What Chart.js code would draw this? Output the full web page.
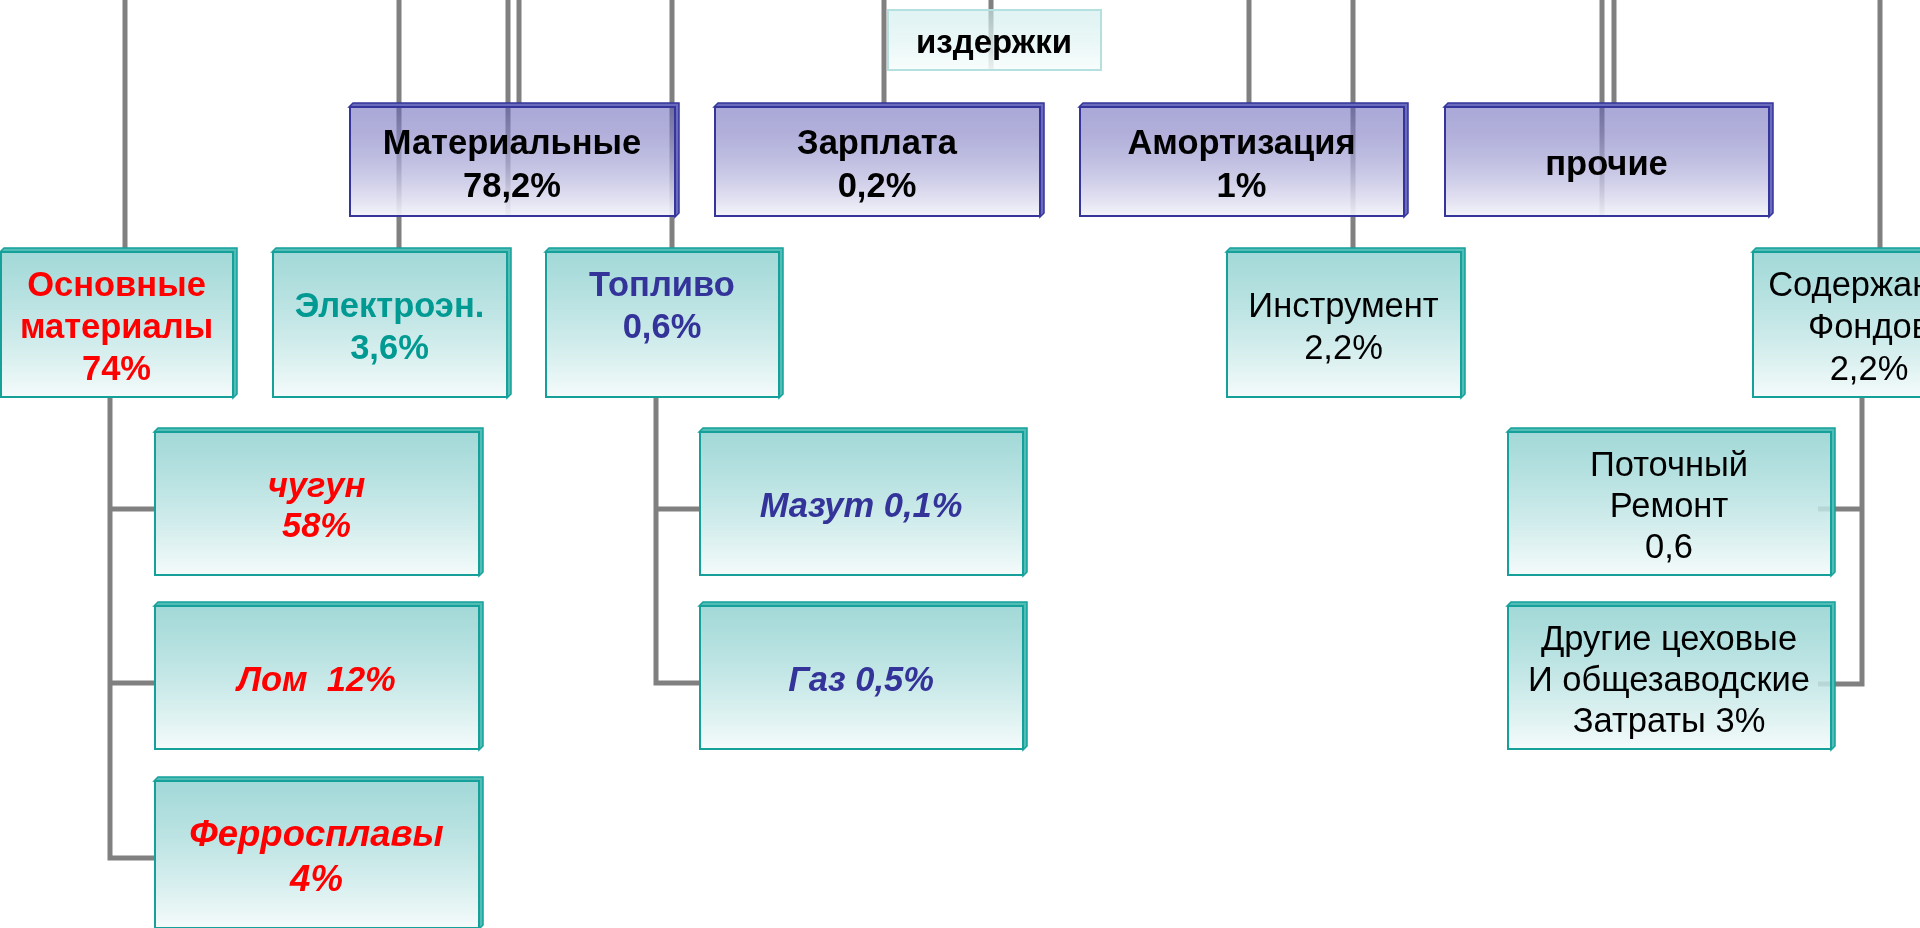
<!DOCTYPE html>
<html><head><meta charset="utf-8">
<script src="https://cdn.jsdelivr.net/npm/chart.js@4.4.1/dist/chart.umd.min.js"></script>
<style>html,body{margin:0;padding:0;background:#fff;overflow:hidden}#wrap{width:1920px;height:928px;position:relative}</style>
</head><body><div id="wrap"><canvas id="c"></canvas></div>
<script>
// ---------------- data ----------------
const rootName = 'издержки';
const groupNames = ['Материальные', 'Зарплата', 'Амортизация', 'прочие'];
const groupShares = ['78,2%', '0,2%', '1%', ''];
const itemNames = ['Основные\nматериалы', 'Электроэн.', 'Топливо', 'Инструмент', 'Содержание\nФондов'];
const itemShares = ['74%', '3,6%', '0,6%', '2,2%', '2,2%'];
const detailNames = ['чугун', 'Лом', 'Ферросплавы', 'Мазут', 'Газ', 'Поточный\nРемонт', 'Другие цеховые\nИ общезаводские\nЗатраты'];
const detailShares = ['58%', '12%', '4%', '0,1%', '0,5%', '0,6', '3%'];

// ---------------- layout (axis units = 1920 x 928 frame) ----------------
const rootBox = {x0: 887, x1: 1101, y0: 10, y1: 71};
const groupBoxX = [[349, 679], [714, 1044], [1079, 1408], [1444, 1773]];
const groupBoxY = [103, 217];
const itemBoxX = [[0, 237], [272, 511], [545, 783], [1226, 1465], [1752, 1990]];
const itemBoxY = [248, 398];
const itemTrailingBlank = [false, false, true, false, false];
const detailBoxes = [
  [154, 483, 428, 576], [154, 483, 602, 750], [154, 483, 777, 929],
  [699, 1027, 428, 576], [699, 1027, 602, 750],
  [1507, 1835, 428, 576], [1507, 1835, 602, 750]
];
const detailJoin = ['\n', '  ', '\n', ' ', ' ', '\n', ' '];
const detailFontPx = [34.5, 34.5, 36.5, 34.5, 34.5, 34.5, 34.5];
const detailLineH = [40, 41, 45, 41, 41, 41, 41];

const connectors = [
  [[125, 0], [125, 248]],
  [[399, 0], [399, 248]],
  [[508, 0], [508, 217]],
  [[519, 0], [519, 103]],
  [[672, 0], [672, 248]],
  [[884, 0], [884, 103]],
  [[991, 0], [991, 71]],
  [[1249, 0], [1249, 103]],
  [[1353, 0], [1353, 248]],
  [[1602, 0], [1602, 217]],
  [[1614, 0], [1614, 103]],
  [[1880, 0], [1880, 248]],
  [[110, 398], [110, 858], [154, 858]],
  [[110, 509], [154, 509]],
  [[110, 683], [154, 683]],
  [[656, 398], [656, 683], [699, 683]],
  [[656, 509], [699, 509]],
  [[1862, 398], [1862, 684], [1818, 684]],
  [[1862, 509], [1818, 509]]
];

// ---------------- styles ----------------
const FONT = "'Liberation Sans', Arial, sans-serif";
const FS = '34.5px ';
const TEXT_DY = 3.5;
const STY = {
  root:   {depth: 0, border: '#b4e0e0', side: '#b4e0e0', top: 'rgba(205,235,235,0.6)', bottom: 'rgba(249,253,253,0.9)', bw: 2},
  group:  {depth: 4, border: '#35359c', side: '#6b6bbd', top: 'rgba(101,97,182,0.55)', bottom: 'rgba(245,245,251,0.95)', bw: 2},
  teal:   {depth: 4, border: '#15a09a', side: '#52bdb7', top: 'rgba(131,204,203,0.75)', bottom: 'rgba(245,251,251,0.95)', bw: 2}
};
const RED = '#ff0000', BLUE = '#333399', TEAL = '#009a93', BLACK = '#000000';
const itemColors = [RED, TEAL, BLUE, BLACK, BLACK];
const itemBold = [true, true, true, false, false];
const detailColors = [RED, RED, RED, BLUE, BLUE, BLACK, BLACK];
const detailBoldItalic = [true, true, true, true, true, false, false];

// build node list
const nodes = [];
nodes.push({b: rootBox, s: STY.root, lines: [rootName], color: BLACK, font: 'bold 33px ' + FONT, lh: 42});
groupNames.forEach((n, i) => {
  const lines = groupShares[i] ? [n, groupShares[i]] : [n];
  nodes.push({b: {x0: groupBoxX[i][0], x1: groupBoxX[i][1], y0: groupBoxY[0], y1: groupBoxY[1]}, s: STY.group,
    lines, color: BLACK, font: 'bold ' + FS + FONT, lh: 43});
});
itemNames.forEach((n, i) => {
  const lines = n.split('\n').concat([itemShares[i]]);
  if (itemTrailingBlank[i]) lines.push('');
  nodes.push({b: {x0: itemBoxX[i][0], x1: itemBoxX[i][1], y0: itemBoxY[0], y1: itemBoxY[1]}, s: STY.teal,
    lines, color: itemColors[i], font: (itemBold[i] ? 'bold ' : '') + FS + FONT, lh: 42});
});
detailNames.forEach((n, i) => {
  const lines = (n + detailJoin[i] + detailShares[i]).split('\n');
  const d = detailBoxes[i];
  nodes.push({b: {x0: d[0], x1: d[1], y0: d[2], y1: d[3]}, s: STY.teal,
    lines, color: detailColors[i], font: (detailBoldItalic[i] ? 'italic bold ' : '') + detailFontPx[i] + 'px ' + FONT, lh: detailLineH[i]});
});

const boxPlugin = {
  id: 'boxes',
  afterDatasetsDraw(chart) {
    const ctx = chart.ctx, xs = chart.scales.x, ys = chart.scales.y;
    ctx.save();
    nodes.forEach(n => {
      const px0 = xs.getPixelForValue(n.b.x0), px1 = xs.getPixelForValue(n.b.x1);
      const py0 = ys.getPixelForValue(n.b.y0), py1 = ys.getPixelForValue(n.b.y1);
      const d = n.s.depth;
      if (d > 0) {
        ctx.beginPath();
        ctx.moveTo(px0, py0 + d); ctx.lineTo(px0 + d, py0); ctx.lineTo(px1, py0);
        ctx.lineTo(px1, py1 - d); ctx.lineTo(px1 - d, py1); ctx.lineTo(px1 - d, py0 + d);
        ctx.closePath();
        ctx.fillStyle = n.s.side; ctx.fill();
        ctx.strokeStyle = n.s.border; ctx.lineWidth = 1.5; ctx.stroke();
      }
      const fx0 = px0, fy0 = py0 + d, fx1 = px1 - d, fy1 = py1;
      const g = ctx.createLinearGradient(0, fy0, 0, fy1);
      g.addColorStop(0, n.s.top); g.addColorStop(1, n.s.bottom);
      ctx.fillStyle = g;
      ctx.fillRect(fx0, fy0, fx1 - fx0, fy1 - fy0);
      ctx.strokeStyle = n.s.border; ctx.lineWidth = n.s.bw;
      ctx.strokeRect(fx0 + 1, fy0, fx1 - fx0 - 1, fy1 - fy0 - 1);
      // text
      ctx.fillStyle = n.color; ctx.font = n.font;
      ctx.textAlign = 'center'; ctx.textBaseline = 'middle';
      const cx = (fx0 + fx1) / 2, cy = (fy0 + fy1) / 2 + TEXT_DY;
      const L = n.lines.length;
      n.lines.forEach((t, k) => {
        ctx.fillText(t, cx, cy + (k - (L - 1) / 2) * n.lh);
      });
    });
    ctx.restore();
  }
};

new Chart(document.getElementById('c'), {
  type: 'line',
  data: {
    datasets: connectors.map(pts => ({
      data: pts.map(p => ({x: p[0], y: p[1]})),
      borderColor: '#808080', borderWidth: 5, pointRadius: 0, fill: false, tension: 0,
      borderCapStyle: 'butt', borderJoinStyle: 'miter', clip: false
    }))
  },
  options: {
    responsive: true, maintainAspectRatio: false, animation: false, events: [],
    layout: {padding: 0},
    plugins: {legend: {display: false}, tooltip: {enabled: false}},
    scales: {
      x: {type: 'linear', min: 0, max: 1920, display: false},
      y: {type: 'linear', min: 0, max: 928, reverse: true, display: false}
    }
  },
  plugins: [boxPlugin]
});
</script>
</body></html>
